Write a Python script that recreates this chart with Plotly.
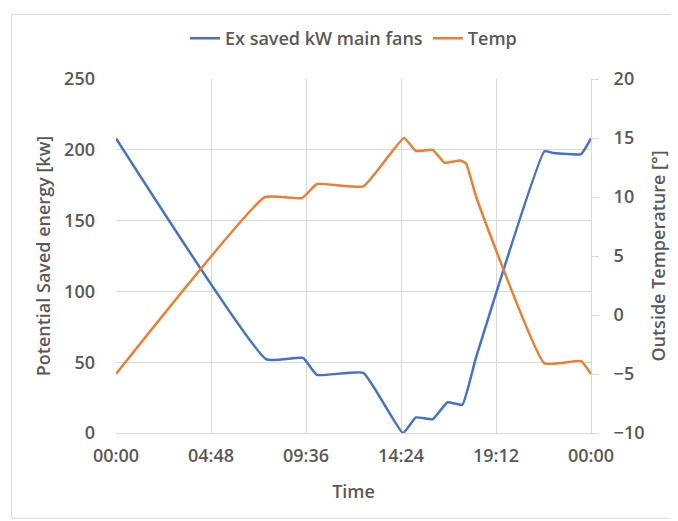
import plotly.graph_objects as go

# Time of day in hours (0 = 00:00, 24 = next 00:00)
fan_hours = [0, 7.6, 9.45, 10.15, 12.5, 14.5, 15.15, 16.0, 16.75, 17.5, 18.2, 21.65, 22.1, 23.5, 24]
fan_saved_kw = [208, 52, 53, 41, 42.5, 0, 11, 9.7, 21.7, 20, 53.7, 199, 197.7, 197, 208]

temp_hours = [0, 7.53, 9.4, 10.15, 12.5, 14.55, 15.15, 16.0, 16.6, 17.4, 17.7, 18.2, 21.65, 23.5, 24]
temp_values = [-5, 10, 9.9, 11.1, 10.9, 15, 13.9, 14, 12.9, 13.1, 12.8, 10, -4.1, -3.9, -5]

x_tickvals = [0, 4.8, 9.6, 14.4, 19.2, 24]
x_ticktext = ["00:00", "04:48", "09:36", "14:24", "19:12", "00:00"]

BLUE = "#4472C4"
ORANGE = "#ED7D31"
TXT = "#595959"
GRID = "#d9d9d9"
FONT = "Open Sans"
FS = 18
WT = 600

fig = go.Figure()
fig.add_trace(go.Scatter(x=fan_hours, y=fan_saved_kw, mode="lines", name="Ex saved kW main fans",
                         line=dict(color=BLUE, width=2.5, shape="spline", smoothing=0.35)))
fig.add_trace(go.Scatter(x=temp_hours, y=temp_values, mode="lines", name="Temp", yaxis="y2",
                         line=dict(color=ORANGE, width=2.5, shape="spline", smoothing=0.35)))

# page has an 8px body margin; figure sized to fit the window
W, H = 670, 513
L, T = 108, 66
pw, ph = 475, 359
R, B = W - L - pw, H - T - ph

tf = dict(size=FS, color=TXT, weight=WT, family=FONT)

fig.update_layout(
    width=W, height=H,
    margin=dict(l=L, r=R, t=T, b=B),
    paper_bgcolor="white", plot_bgcolor="white",
    font=dict(family=FONT, color=TXT, size=FS),
    showlegend=True,
    legend=dict(orientation="h", x=0.5, xanchor="center", y=1 + (T - 25) / ph, yanchor="middle",
                font=tf, itemwidth=30, bgcolor="rgba(0,0,0,0)"),
    xaxis=dict(range=[0, 24], tickvals=x_tickvals, ticktext=x_ticktext,
               showgrid=True, gridcolor=GRID, gridwidth=1, zeroline=False,
               showline=True, linecolor=GRID, linewidth=1, ticks="",
               tickfont=tf, ticklabelstandoff=6,
               title=dict(text="Time", font=tf, standoff=19)),
    yaxis=dict(range=[0, 250], dtick=50, showgrid=True, gridcolor=GRID, gridwidth=1,
               zeroline=False, showline=False, ticks="",
               tickfont=tf, ticklabelstandoff=20,
               title=dict(text="Potential Saved energy [kw]", font=tf, standoff=8)),
    yaxis2=dict(range=[-10, 20], dtick=5, overlaying="y", side="right", showgrid=False,
                zeroline=False, showline=True, linecolor=GRID, linewidth=1,
                ticks="outside", ticklen=7, tickcolor=GRID,
                tickfont=tf, ticklabelstandoff=11,
                title=dict(text="Outside Temperature [°]", font=tf, standoff=8)),
    shapes=[dict(type="rect", xref="paper", yref="paper",
                 x0=(3.5 - L) / pw, x1=(700 - L) / pw, y0=(T + ph - 511.5) / ph, y1=(T + ph - 0.5) / ph,
                 line=dict(color="#d9d9d9", width=1), fillcolor="rgba(0,0,0,0)", layer="below")],
)

fig.write_html("out.html")
